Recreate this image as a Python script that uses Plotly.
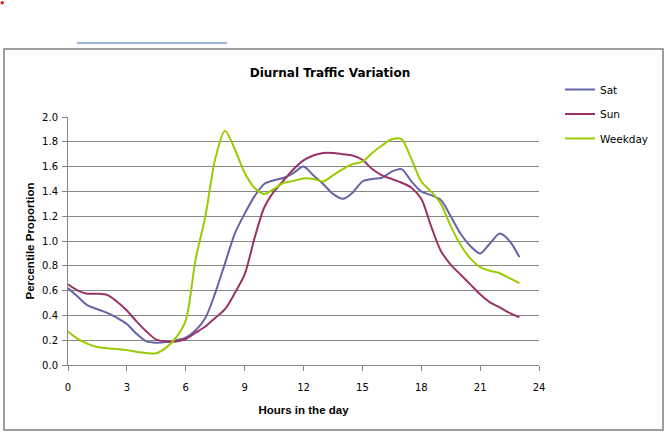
import plotly.graph_objects as go

# half-hour sampling, 0:00 .. 23:00
hours = [0, 0.5, 1, 1.5, 2, 2.5, 3, 3.5, 4, 4.5, 5, 5.5, 6, 6.5, 7, 7.5,
         8, 8.5, 9, 9.5, 10, 10.5, 11, 11.5, 12, 12.5, 13, 13.5, 14, 14.5,
         15, 15.5, 16, 16.5, 17, 17.5, 18, 18.5, 19, 19.5, 20, 20.5, 21,
         21.5, 22, 22.5, 23]

sat = [0.62, 0.55, 0.48, 0.45, 0.42, 0.38, 0.33, 0.25, 0.19, 0.18, 0.185,
       0.20, 0.22, 0.28, 0.38, 0.58, 0.82, 1.06, 1.22, 1.36, 1.46, 1.49,
       1.51, 1.55, 1.60, 1.53, 1.46, 1.38, 1.34, 1.39, 1.48, 1.50, 1.51,
       1.56, 1.58, 1.48, 1.40, 1.37, 1.33, 1.20, 1.06, 0.96, 0.90, 0.98,
       1.06, 1.00, 0.87]

sun = [0.65, 0.60, 0.575, 0.575, 0.565, 0.51, 0.44, 0.35, 0.27, 0.205,
       0.19, 0.19, 0.21, 0.26, 0.31, 0.38, 0.45, 0.58, 0.73, 1.02, 1.27,
       1.40, 1.49, 1.58, 1.65, 1.69, 1.71, 1.71, 1.70, 1.69, 1.655, 1.58,
       1.53, 1.50, 1.47, 1.43, 1.34, 1.12, 0.92, 0.81, 0.73, 0.65, 0.57,
       0.505, 0.465, 0.42, 0.385]

weekday = [0.27, 0.21, 0.17, 0.145, 0.135, 0.128, 0.12, 0.105, 0.097,
           0.095, 0.14, 0.22, 0.36, 0.85, 1.20, 1.66, 1.89, 1.74, 1.55,
           1.43, 1.38, 1.42, 1.47, 1.485, 1.505, 1.50, 1.48, 1.53, 1.58,
           1.62, 1.64, 1.71, 1.77, 1.82, 1.82, 1.66, 1.48, 1.40, 1.30,
           1.12, 0.97, 0.86, 0.79, 0.76, 0.74, 0.70, 0.66]

series = [("Sat", sat, "#6464a6"), ("Sun", sun, "#993366"), ("Weekday", weekday, "#99cc00")]

# plot area in pixels: x 68..539, y 117..365 (used to place paper shapes)
L, R, T, B = 68, 539, 117, 365
def px(X): return (X-L)/(R-L)
def py(Y): return (B-Y)/(B-T)

fig = go.Figure()
for i, (name, vals, col) in enumerate(series):
  fig.add_trace(go.Scatter(
    x=hours, y=vals, name=name, mode='lines',
    line=dict(color=col, width=2, shape='spline', smoothing=0.8),
    legendgroup=f"g{i}",
  ))

fig.update_layout(
  width=669, height=438,
  margin=dict(l=L, r=669-R, t=T, b=438-B, pad=0),
  paper_bgcolor='white', plot_bgcolor='white',
  font=dict(family='DejaVu Sans', size=10, color='black'),
  title=dict(text="<b>Diurnal Traffic Variation</b>",
             font=dict(family='DejaVu Sans', size=12, color='black'),
             xref='paper', x=px(330), xanchor='center',
             yref='container', y=1-73/438, yanchor='middle'),
  showlegend=True,
  legend=dict(x=px(560), y=py(75), xanchor='left', yanchor='top',
              font=dict(family='DejaVu Sans', size=10.5),
              tracegroupgap=5.5, bgcolor='rgba(0,0,0,0)'),
  xaxis=dict(
    range=[0, 24], tickmode='linear', tick0=0, dtick=3,
    showgrid=False, zeroline=False,
    showline=True, linecolor='#868686', linewidth=1,
    ticks='outside', ticklen=5, tickcolor='#868686',
    ticklabelstandoff=8,
    tickfont=dict(family='DejaVu Sans', size=10),
    title=dict(text="<b>Hours in the day</b>",
               font=dict(family='Liberation Sans', size=11.5), standoff=13),
  ),
  yaxis=dict(
    range=[0, 2], tickmode='linear', tick0=0, dtick=0.2, tickformat='.1f',
    showgrid=True, gridcolor='#868686', gridwidth=1, zeroline=False,
    showline=True, linecolor='#868686', linewidth=1,
    ticks='outside', ticklen=5, tickcolor='#868686',
    ticklabelstandoff=2,
    tickfont=dict(family='DejaVu Sans', size=10),
    title=dict(text="<b>Percentile Proportion</b>",
               font=dict(family='Liberation Sans', size=11.5), standoff=5),
  ),
  shapes=[
    # chart border
    dict(type='rect', xref='paper', yref='paper',
         x0=px(4), x1=px(663), y0=py(430), y1=py(49),
         line=dict(color='#808080', width=1.5), layer='below'),
    # stray line above the chart
    dict(type='line', xref='paper', yref='paper',
         x0=px(77), x1=px(227), y0=py(43), y1=py(43),
         line=dict(color='#3a64c0', width=1)),
    # small red dot in the corner
    dict(type='circle', xref='paper', yref='paper',
         x0=px(0.5), x1=px(4), y0=py(4.5), y1=py(1),
         fillcolor='#ee2222', line=dict(color='#ee2222', width=0)),
  ],
)

# page has an 8px body margin by default, drop it so the figure sits at 0,0
fig.write_html("out.html", config={'displayModeBar': False},
               post_script="document.body.style.margin='0';")
